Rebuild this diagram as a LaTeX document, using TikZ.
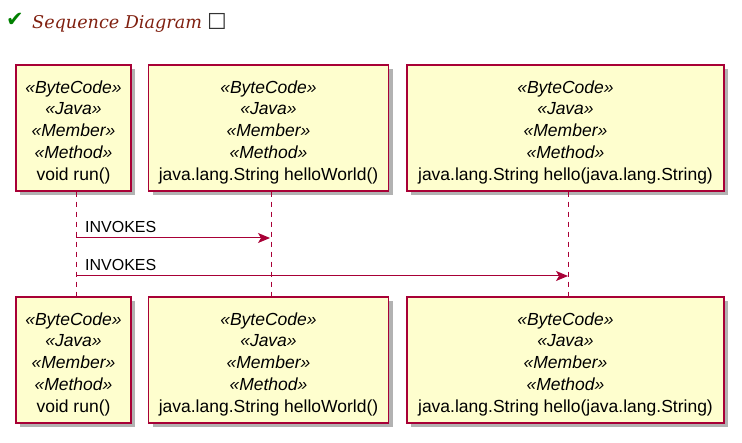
\documentclass[tikz,border=0pt]{standalone}
\usepackage{fontspec}
\setmainfont{Liberation Sans}
\newfontfamily\titlefont{DejaVu Serif}
\newfontfamily\symfont{DejaVu Sans}
\usetikzlibrary{arrows.meta,positioning,shadows}
\definecolor{plum}{RGB}{168,0,54}
\definecolor{cream}{RGB}{254,254,206}
\definecolor{leaf}{RGB}{0,128,0}
\definecolor{rust}{RGB}{128,32,16}
\newcommand{\stereotypes}{\rule{0pt}{21pt}\textit{«ByteCode»}\\\textit{«Java»}\\\textit{«Member»}\\\textit{«Method»}}

\begin{document}
\begin{tikzpicture}[x=1pt,y=-1pt,
    member/.style={draw=plum,line width=1.4pt,fill=cream,align=center,
      minimum height=126pt,inner sep=0pt,font=\fontsize{17.5}{21.8}\selectfont,
      drop shadow={shadow xshift=4pt,shadow yshift=-4pt,opacity=.3,fill=black}},
    lifeline/.style={plum,line width=1pt,dash pattern=on 5pt off 5pt},
    invoke/.style={plum,line width=1pt,-{Stealth[length=12pt,width=10pt,inset=3pt]}},
    msglabel/.style={font=\fontsize{16}{16}\selectfont,anchor=base west,inner sep=0pt}]
  \useasboundingbox (0,0) rectangle (742,443);
  % title
  \node[text=leaf,font=\symfont\fontsize{21}{21}\selectfont,anchor=base west,inner sep=0pt] (tick) at (6,27) {✔};
  \node[text=rust,font=\titlefont\itshape\fontsize{17.6}{18}\selectfont,anchor=base west,inner sep=0pt] (title) at (32,29) {Sequence Diagram};
  \node[text=black!80,font=\symfont\fontsize{22}{22}\selectfont,anchor=base west,inner sep=0pt] (mark) at (207,30) {☐};
  % participants, top and bottom
  \foreach \n/\x/\w/\txt in {1/73.5/115/void run(),2/268.5/240/java.lang.String helloWorld(),3/565.5/317/java.lang.String hello(java.lang.String)} {
    \node[member,minimum width=\w pt] (t\n) at (\x,128) {\stereotypes\\\txt};
    \node[member,minimum width=\w pt] (b\n) at (\x,360) {\stereotypes\\\txt};
    \draw[lifeline] ([xshift=2.5pt]t\n.south) -- ([xshift=2.5pt]b\n.north);
  }
  % messages
  \coordinate (s1) at (76,238);
  \coordinate (r1) at (270,238);
  \coordinate (s2) at (76,276);
  \coordinate (r2) at (568,276);
  \draw[invoke] (s1) -- (r1);
  \draw[invoke] (s2) -- (r2);
  \node[msglabel] (lab1) at (85,233) {INVOKES};
  \node[msglabel] (lab2) at (85,271) {INVOKES};
\end{tikzpicture}
\end{document}
